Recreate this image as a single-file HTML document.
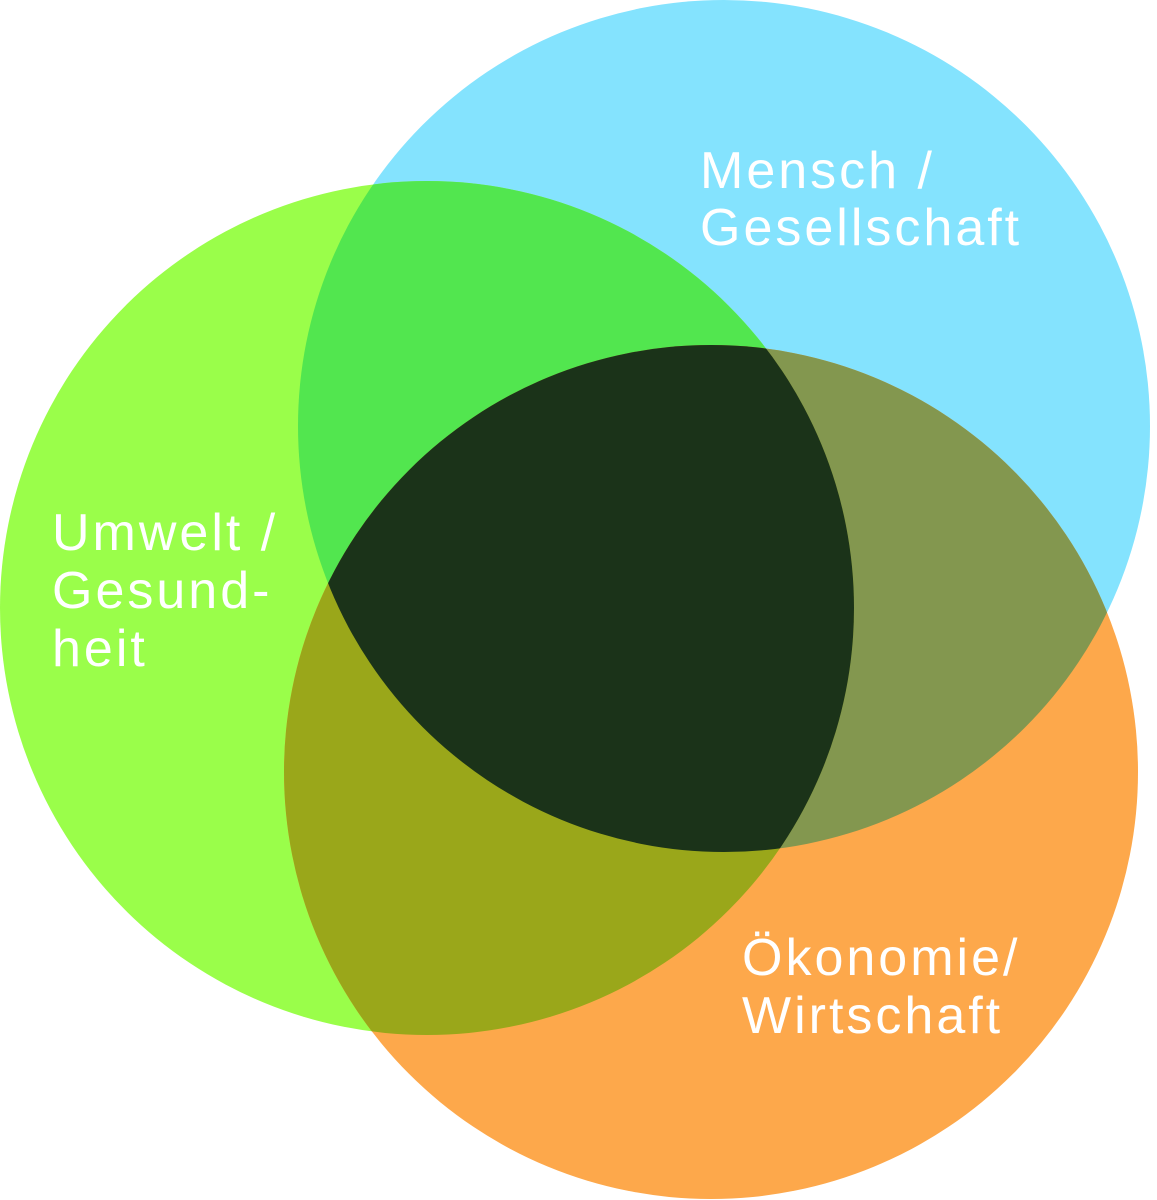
<!DOCTYPE html>
<html><head><meta charset="utf-8"><style>
html,body{margin:0;padding:0;background:#fff}
svg{display:block}
text{font-family:"Liberation Sans",sans-serif;font-size:52px;fill:#fff;letter-spacing:3px}
</style></head><body>
<svg width="1157" height="1200" viewBox="0 0 1157 1200">
<defs>
<clipPath id="cb"><circle cx="724" cy="426" r="426"/></clipPath>
<clipPath id="cg"><circle cx="427" cy="608" r="427"/></clipPath>
<clipPath id="co"><circle cx="711" cy="772" r="427"/></clipPath>
</defs>
<circle cx="724" cy="426" r="426" fill="#84e3fe"/>
<circle cx="427" cy="608" r="427" fill="#9afe4a"/>
<circle cx="711" cy="772" r="427" fill="#fda84b"/>
<g clip-path="url(#cb)"><circle cx="427" cy="608" r="427" fill="#52e64f"/><circle cx="711" cy="772" r="427" fill="#83974f"/></g>
<g clip-path="url(#cg)"><circle cx="711" cy="772" r="427" fill="#9aa71a"/></g>
<g clip-path="url(#cb)"><g clip-path="url(#cg)"><circle cx="711" cy="772" r="427" fill="#1b3319"/></g></g>
<text x="700" y="188">Mensch /</text>
<text x="700" y="245">Gesellschaft</text>
<text x="52" y="550">Umwelt /</text>
<text x="52" y="608">Gesund-</text>
<text x="52" y="666">heit</text>
<text x="742" y="975">Ökonomie/</text>
<text x="742" y="1033">Wirtschaft</text>
</svg>
</body></html>
